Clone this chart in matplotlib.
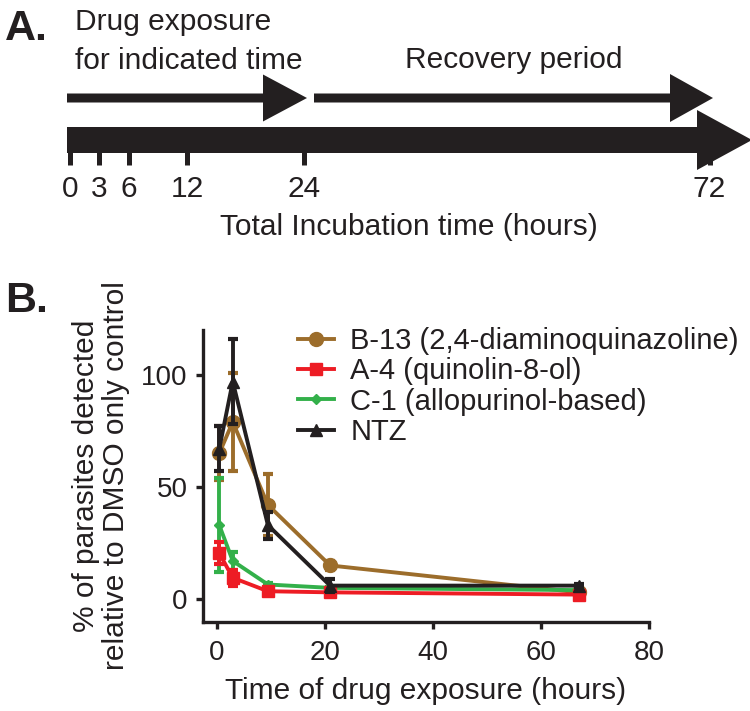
import matplotlib
matplotlib.use("Agg")
import matplotlib.pyplot as plt
from matplotlib.patches import FancyArrow

plt.rcParams['font.family'] = ['Liberation Sans', 'DejaVu Sans']

# ---------------- data ----------------
timeline_labels = ['0', '3', '6', '12', '24', '72']
timeline_pos = [0, 3, 6, 12, 24, 65.6]   # schematic (compressed) positions, hours

time_h = [0.5, 3, 9.5, 21, 67]
series_names = ['B-13 (2,4-diaminoquinazoline)', 'A-4 (quinolin-8-ol)',
                'C-1 (allopurinol-based)', 'NTZ']
b13_mean = [65, 79, 42, 15, 3]
b13_err = [12, 22, 14, 2, 1]
a4_mean = [20.5, 9.5, 3.5, 3, 2]
a4_err = [5, 3.5, 0.8, 0.6, 0.5]
c1_mean = [33, 17, 6.5, 5, 4]
c1_err = [21, 4, 0.8, 0.6, 0.5]
ntz_mean = [67, 97, 33, 6, 6]
ntz_err = [10, 19, 6, 3, 0.8]

W, H = 750, 711
def fx(px):
    return px / W
def fy(py):
    return 1 - py / H

fig = plt.figure(figsize=(7.5, 7.11), dpi=100)

# ---------------- panel A ----------------
pxh = 9.75  # pixels per hour
x0px = 70
axA = fig.add_axes([0, fy(260), 1, 260 / H])
axA.set_xlim(-x0px / pxh, (W - x0px) / pxh)
axA.set_ylim(260, 0)
axA.axis('off')

def hx(px):
    return (px - x0px) / pxh

arrow_kw = dict(length_includes_head=True, color='#231F20', linewidth=0)
axA.add_patch(FancyArrow(hx(67), 98, hx(307) - hx(67), 0, width=9,
                         head_width=47, head_length=(307 - 263) / pxh, **arrow_kw))
axA.add_patch(FancyArrow(hx(314), 98, hx(713) - hx(314), 0, width=9,
                         head_width=48, head_length=(713 - 670) / pxh, **arrow_kw))
axA.add_patch(FancyArrow(hx(67), 140, hx(752) - hx(67), 0, width=26,
                         head_width=60, head_length=(752 - 697) / pxh, **arrow_kw))
axA.vlines(timeline_pos, 150, 165, color='#231F20', linewidth=3.6)
for p, lab in zip(timeline_pos, timeline_labels):
    axA.text(p, 197, lab, ha='center', va='baseline', fontsize=21.5, color='#231F20')

fig.text(fx(5), fy(40), 'A.', fontsize=31, weight='bold', va='baseline', color='#231F20')
fig.text(fx(75), fy(30), 'Drug exposure', fontsize=21.5, va='baseline', color='#231F20')
fig.text(fx(75), fy(69), 'for indicated time', fontsize=21.5, va='baseline', color='#231F20')
fig.text(fx(514), fy(68), 'Recovery period', fontsize=21.5, va='baseline', ha='center', color='#231F20')
fig.text(fx(409), fy(235), 'Total Incubation time (hours)', fontsize=21.5, va='baseline',
         ha='center', color='#231F20')

# ---------------- panel B ----------------
fig.text(fx(5), fy(312), 'B.', fontsize=31, weight='bold', va='baseline', color='#231F20')

axB = fig.add_axes([fx(202.7), fy(621.5), (649 - 202.7) / W, (621.5 - 330) / H])
colors = ['#9C6D2B', '#ED1C24', '#33B04A', '#231F20']
markers = ['o', 's', 'D', '^']
msizes = [10, 9, 5.5, 8.5]
means = [b13_mean, a4_mean, c1_mean, ntz_mean]
errs = [b13_err, a4_err, c1_err, ntz_err]
zorders = [3, 5, 4, 6]

handles = []
for name, m, e, c, mk, ms, z in zip(series_names, means, errs, colors, markers, msizes, zorders):
    eb = axB.errorbar(time_h, m, yerr=e, color=c, marker=mk, markersize=ms,
                      markeredgecolor=c, markerfacecolor=c, linewidth=2.8,
                      elinewidth=2.8, capsize=3.8, capthick=3, zorder=z, label=name,
                      clip_on=False)
    handles.append(eb.lines[0])

axB.set_xlim(-2.56, 80)
axB.set_ylim(-10, 120)
axB.set_xticks([0, 20, 40, 60, 80])
axB.set_yticks([0, 50, 100])
for s in ['top', 'right']:
    axB.spines[s].set_visible(False)
for s in ['left', 'bottom']:
    axB.spines[s].set_linewidth(2.4)
    axB.spines[s].set_color('#231F20')
axB.tick_params(width=2.4, length=5, labelsize=20, colors='#231F20')
axB.tick_params(axis='x', pad=8)
axB.tick_params(axis='y', pad=6)
axB.set_xlabel('Time of drug exposure (hours)', fontsize=21.5, color='#231F20', labelpad=8)
axB.set_ylabel('% of parasites detected\nrelative to DMSO only control', fontsize=21.5,
               color='#231F20', linespacing=1.1, labelpad=8)

leg = axB.legend(handles=handles, labels=series_names, loc='upper left',
                 bbox_to_anchor=(fx(298), fy(327)), bbox_transform=fig.transFigure,
                 frameon=False, fontsize=21, borderpad=0, borderaxespad=0,
                 handlelength=1.25, handletextpad=0.55, labelspacing=0.08)
for t in leg.get_texts():
    t.set_color('#231F20')

fig.savefig('out.png', dpi=100)
